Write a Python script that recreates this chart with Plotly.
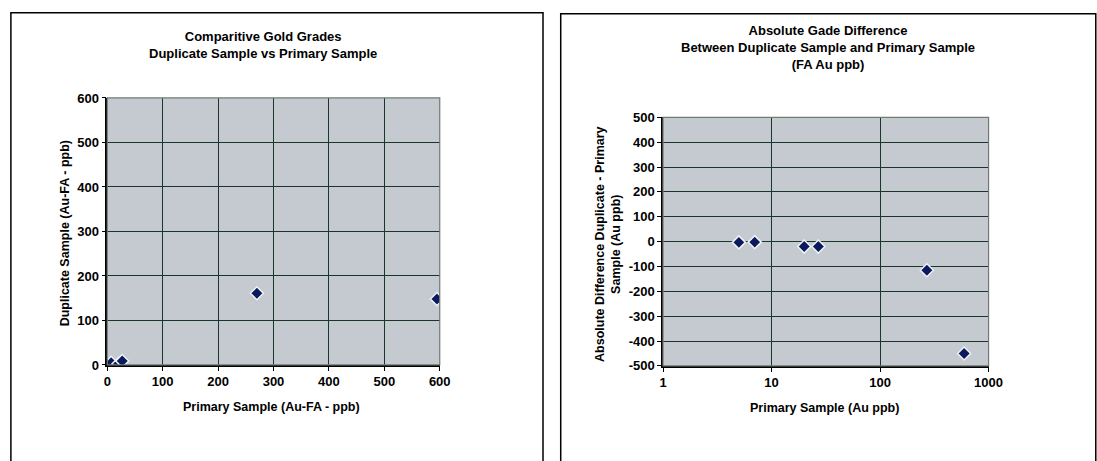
import plotly.graph_objects as go

# Data
primary = [5, 7, 20, 27, 270, 595]          # Primary Sample (Au-FA ppb)
duplicate = [2, 5, 2, 9, 161, 148]          # Duplicate Sample (Au-FA ppb)
difference = [-3, -2, -20, -20, -115, -450] # Duplicate - Primary (Au ppb)

left_ticks = [0, 100, 200, 300, 400, 500, 600]
right_yticks = [-500, -400, -300, -200, -100, 0, 100, 200, 300, 400, 500]
right_xticks = [1, 10, 100, 1000]

W, H = 1097, 461
FONT = "Liberation Sans, Arial, sans-serif"
BG = "#c4cad0"
GRID = "#1b3528"
MARK = "#0b1a5c"

def px(x):
    return x / W

def py(y):
    return 1 - y / H

def bold(vals):
    return [f"<b>{v}</b>" for v in vals]

fig = go.Figure()

marker = dict(symbol="diamond", size=10, color=MARK, line=dict(color="#eef2f6", width=1.5))

fig.add_trace(go.Scatter(x=primary, y=duplicate, mode="markers", marker=marker,
                         xaxis="x", yaxis="y", showlegend=False))
fig.add_trace(go.Scatter(x=primary, y=difference, mode="markers", marker=marker,
                         xaxis="x2", yaxis="y2", showlegend=False))

tickfont = dict(family=FONT, size=13, color="black")
axcommon = dict(showgrid=True, gridcolor=GRID, gridwidth=1.3, zeroline=False,
                showline=True, linecolor="black", linewidth=1.5,
                ticks="outside", ticklen=4, tickcolor="black", tickfont=tickfont)

fig.update_layout(
    width=W, height=H,
    margin=dict(l=0, r=0, t=0, b=0),
    paper_bgcolor="white",
    plot_bgcolor=BG,
    xaxis=dict(domain=[px(105), px(443)], range=[0, 600], tickvals=left_ticks,
               ticktext=bold(left_ticks), anchor="y", **axcommon),
    yaxis=dict(domain=[py(370), py(94)], range=[0, 600], tickvals=left_ticks,
               ticktext=bold(left_ticks), anchor="x", **axcommon),
    xaxis2=dict(domain=[px(670), px(1001)], type="log", range=[0, 3],
                tickvals=right_xticks, ticktext=bold(right_xticks),
                anchor="y2", **axcommon),
    yaxis2=dict(domain=[py(371), py(114)], range=[-500, 500], tickvals=right_yticks,
                ticktext=bold(right_yticks), anchor="x2", **axcommon),
)

# plot-area borders (right/top edges)
for xa, ya in (("x", "y"), ("x2", "y2")):
    fig.add_shape(type="rect", xref=f"{xa} domain", yref=f"{ya} domain",
                  x0=0, x1=1, y0=0, y1=1, line=dict(color="#6f7a72", width=1.2),
                  fillcolor="rgba(0,0,0,0)", layer="above")

# chart frames
fig.add_shape(type="rect", xref="paper", yref="paper",
              x0=px(7), x1=px(548), y0=py(470), y1=py(6),
              line=dict(color="black", width=1.5))
fig.add_shape(type="rect", xref="paper", yref="paper",
              x0=px(566), x1=px(1110), y0=py(470), y1=py(7),
              line=dict(color="black", width=1.5))

tfont = dict(family=FONT, size=13, color="black")
afont = dict(family=FONT, size=12.5, color="black")

annots = [
    dict(text="<b>Comparitive Gold Grades<br>Duplicate Sample vs Primary Sample</b>",
         x=px(263), y=py(39), font=tfont),
    dict(text="<b>Primary Sample (Au-FA - ppb)</b>", x=px(272), y=py(413), font=afont),
    dict(text="<b>Duplicate Sample (Au-FA - ppb)</b>", x=px(62), y=py(234), font=afont,
         textangle=-90),
    dict(text="<b>Absolute Gade Difference<br>Between Duplicate Sample and Primary Sample<br>(FA Au ppb)</b>",
         x=px(838), y=py(42), font=tfont),
    dict(text="<b>Primary Sample (Au ppb)</b>", x=px(834), y=py(415), font=afont),
    dict(text="<b>Absolute Difference Duplicate - Primary<br>Sample (Au ppb)</b>",
         x=px(614), y=py(245), font=afont, textangle=-90),
]
for a in annots:
    fig.add_annotation(xref="paper", yref="paper", showarrow=False,
                       xanchor="center", yanchor="middle", **a)

fig.write_html("out.html")
